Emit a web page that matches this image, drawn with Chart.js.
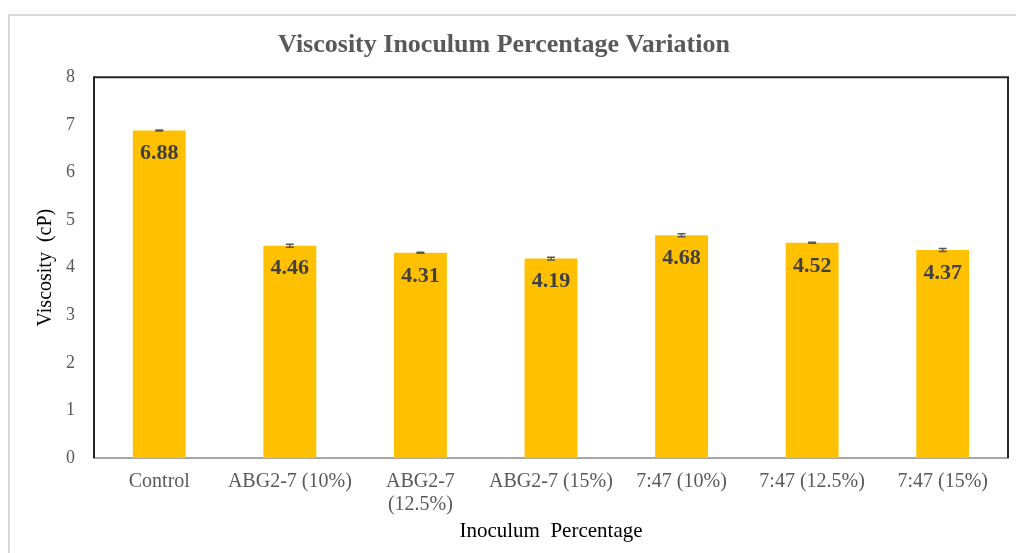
<!DOCTYPE html>
<html>
<head>
<meta charset="utf-8">
<script src="https://cdn.jsdelivr.net/npm/chart.js@4/dist/chart.umd.min.js"></script>
<style>
  html, body { margin: 0; padding: 0; background: #fff; }
  #wrap { width: 1016px; height: 553px; }
</style>
</head>
<body>
<div id="wrap"><canvas id="bar-chart" width="1016" height="553"></canvas></div>
<script>
var categories = ["Control", "ABG2-7 (10%)", ["ABG2-7", "(12.5%)"], "ABG2-7 (15%)", "7:47 (10%)", "7:47 (12.5%)", "7:47 (15%)"];
var viscosity = [6.88, 4.46, 4.31, 4.19, 4.68, 4.52, 4.37];
var errors = [0.01, 0.03, 0.01, 0.03, 0.03, 0.01, 0.03];
var yTicks = [0, 1, 2, 3, 4, 5, 6, 7, 8];

var serif = "'Liberation Serif', 'Times New Roman', serif";

// frame round the whole chart + box round the plot area
var framePlugin = {
  id: 'frame',
  beforeDraw: function(chart) {
    var ctx = chart.ctx;
    ctx.save();
    ctx.strokeStyle = "#d9d9d9";
    ctx.lineWidth = 2;
    ctx.beginPath();
    ctx.moveTo(1016, 15);
    ctx.lineTo(9, 15);
    ctx.lineTo(9, 553);
    ctx.stroke();
    ctx.restore();
  },
  afterDatasetsDraw: function(chart) {
    var ctx = chart.ctx, a = chart.chartArea;
    ctx.save();
    ctx.strokeStyle = "#262626";
    ctx.lineWidth = 2;
    ctx.beginPath();
    ctx.moveTo(a.left, a.bottom);
    ctx.lineTo(a.left, a.top);
    ctx.lineTo(a.right, a.top);
    ctx.lineTo(a.right, a.bottom);
    ctx.stroke();
    ctx.restore();
  }
};

// error bars and value labels
var markPlugin = {
  id: 'marks',
  afterDatasetsDraw: function(chart) {
    var ctx = chart.ctx;
    var y = chart.scales.y;
    var meta = chart.getDatasetMeta(0);
    ctx.save();
    meta.data.forEach(function(bar, i) {
      var v = viscosity[i];
      var yHi = y.getPixelForValue(v + errors[i]);
      var yLo = y.getPixelForValue(v - errors[i]);
      ctx.strokeStyle = "#595959";
      ctx.lineWidth = 1.5;
      ctx.beginPath();
      ctx.moveTo(bar.x, yHi); ctx.lineTo(bar.x, yLo);
      ctx.moveTo(bar.x - 4, yHi); ctx.lineTo(bar.x + 4, yHi);
      ctx.moveTo(bar.x - 4, yLo); ctx.lineTo(bar.x + 4, yLo);
      ctx.stroke();
      ctx.fillStyle = "#404040";
      ctx.font = "bold 22px " + serif;
      ctx.textAlign = "center";
      ctx.textBaseline = "middle";
      ctx.fillText(v.toFixed(2), bar.x, y.getPixelForValue(v) + 23);
    });
    ctx.restore();
  }
};

new Chart(document.getElementById("bar-chart"), {
  type: 'bar',
  data: {
    labels: categories,
    datasets: [{
      data: viscosity,
      backgroundColor: "#FFC000",
      categoryPercentage: 1.0,
      barPercentage: 0.405
    }]
  },
  options: {
    responsive: false,
    animation: false,
    layout: { padding: { left: 0, right: 8, top: 0, bottom: 0 } },
    plugins: {
      legend: { display: false },
      tooltip: { enabled: false },
      title: {
        display: true,
        text: "Viscosity Inoculum Percentage Variation",
        color: "#595959",
        font: { family: serif, size: 26, weight: 'bold', lineHeight: 1.2 },
        padding: { top: 30, bottom: 16 }
      }
    },
    scales: {
      x: {
        grid: { display: false, drawTicks: false },
        border: { display: true, color: "#a6a6a6", width: 2 },
        ticks: { color: "#595959", font: { family: serif, size: 20, lineHeight: 1.15 }, padding: 12, maxRotation: 0, autoSkip: false },
        title: {
          display: true,
          text: "Inoculum  Percentage",
          color: "#000",
          font: { family: serif, size: 21 },
          padding: { top: 0, bottom: 9 }
        },
        afterFit: function(s) { s.height = 95; }
      },
      y: {
        min: 0,
        max: 8,
        afterBuildTicks: function(s) { s.ticks = yTicks.map(function(v) { return { value: v }; }); },
        grid: { display: false, drawTicks: false },
        border: { display: false },
        ticks: { color: "#595959", font: { family: serif, size: 18 }, padding: 19 },
        title: {
          display: true,
          text: "Viscosity  (cP)",
          color: "#000",
          font: { family: serif, size: 20 },
          padding: { top: 34, bottom: 0 }
        },
        afterFit: function(s) { s.width = 94; }
      }
    }
  },
  plugins: [framePlugin, markPlugin]
});
</script>
</body>
</html>
